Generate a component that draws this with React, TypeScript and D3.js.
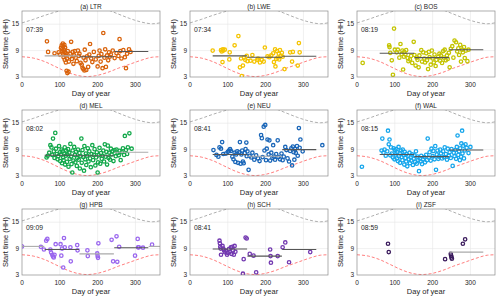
import React, { Component } from "react";
import * as d3 from "d3";

// panel labels and the time annotation in each panel
const panelTitles = ["(a) LTR", "(b) LWE", "(c) BOS", "(d) MEL", "(e) NEU", "(f) WAL", "(g) HPB", "(h) SCH", "(i) ZSF"];
const panelTimes = ["07:39", "07:34", "08:19", "08:02", "08:41", "08:15", "09:09", "08:41", "08:59"];
const xTicks = [0, 100, 200, 300];
const yTicks = [3, 9, 15];

// sunrise / sunset hour by day of year
const sunrise = [[0, 7.6], [30, 7.3], [60, 6.5], [90, 5.3], [120, 4.1], [150, 3.3], [172, 3.1], [195, 3.3], [225, 4.0], [255, 5.0], [285, 5.9], [315, 6.8], [345, 7.5], [365, 7.6]];
const sunset = [[0, 15.3], [30, 16.1], [60, 17.0], [90, 17.8], [120, 18.5], [150, 19.0], [172, 19.1], [195, 19.0], [225, 18.3], [255, 17.3], [285, 16.3], [315, 15.5], [345, 15.1], [365, 15.3]];

// start times [day, hour]
const ltr = [[66,11.1],[69,8.7],[86,8.4],[97,8.6],[100,8.1],[103,9.6],[105,10.2],[106,9.3],[107,8.9],[108,10.6],[109,9.9],[110,8.2],[110,7.5],[111,9.1],[112,10.3],[113,6.9],[113,8.6],[114,9.7],[115,7.9],[116,6.3],[117,8.4],[118,4.4],[119,7.2],[120,3.9],[121,8.9],[123,4.2],[124,6.5],[126,7.6],[128,8.3],[130,11.0],[132,7.1],[134,8.7],[136,6.0],[138,7.9],[140,8.9],[142,7.4],[145,6.6],[148,9.0],[150,7.8],[152,8.3],[155,6.2],[158,5.8],[160,5.1],[162,4.8],[163,7.4],[165,4.5],[166,9.2],[168,6.8],[170,4.6],[172,7.7],[175,5.3],[178,8.1],[180,10.5],[183,7.2],[186,6.4],[190,8.7],[195,7.0],[200,5.4],[203,7.8],[205,9.0],[208,6.5],[210,8.2],[213,5.0],[215,13.0],[218,7.4],[220,9.3],[222,5.3],[225,7.9],[228,6.8],[230,8.6],[232,7.6],[235,8.1],[240,9.0],[245,7.3],[250,8.4],[255,7.8],[258,11.6],[260,8.9],[263,7.2],[268,9.1],[272,7.5],[275,5.0],[278,8.3],[283,9.3],[287,8.7]];
const lwe = [[60,9.0],[82,9.1],[84,8.8],[86,6.4],[87,9.3],[88,9.0],[92,9.2],[104,7.0],[105,8.6],[118,10.2],[128,12.3],[132,5.2],[135,7.2],[137,3.2],[140,5.6],[143,7.4],[146,6.9],[150,7.8],[152,6.6],[160,6.7],[165,8.0],[170,6.5],[178,6.9],[180,7.2],[185,6.3],[190,6.9],[195,6.5],[198,9.7],[205,7.7],[210,7.5],[215,7.9],[220,8.4],[222,6.4],[225,9.3],[226,5.4],[228,7.1],[230,8.9],[232,7.4],[235,8.3],[236,7.0],[238,9.1],[240,7.8],[243,8.5],[245,7.6],[250,4.8],[265,8.6],[270,6.5],[272,8.7],[285,5.6],[288,10.7],[290,8.6]];
const bos = [[15,6.2],[85,10.2],[86,9.8],[88,8.5],[92,6.8],[95,3.5],[98,14.0],[100,9.2],[105,8.6],[108,9.2],[112,7.4],[115,10.5],[118,8.2],[120,9.0],[122,4.7],[124,7.6],[125,8.7],[128,8.1],[130,9.1],[134,7.3],[136,6.6],[140,7.0],[143,7.8],[146,6.2],[150,11.0],[152,8.0],[155,5.6],[158,7.4],[160,6.9],[163,5.2],[165,7.9],[170,9.1],[172,6.5],[175,8.6],[178,7.2],[180,6.3],[183,8.4],[185,6.8],[188,4.8],[190,8.7],[192,7.5],[195,5.8],[198,9.0],[200,7.2],[203,6.3],[205,8.1],[208,5.5],[210,6.9],[215,7.6],[218,8.3],[220,6.7],[222,7.9],[225,6.2],[228,8.9],[230,7.4],[232,9.2],[235,6.8],[238,7.9],[240,7.1],[243,8.5],[245,5.2],[248,9.4],[252,10.0],[255,7.4],[258,11.3],[262,10.9],[265,8.8],[268,9.5],[270,8.0],[273,10.3],[275,6.5],[278,9.2],[280,8.6],[283,9.8],[285,7.3],[288,9.0],[292,6.6],[295,9.2]];
const mel = [[65,7.2],[68,7.6],[72,8.3],[75,10.0],[78,9.5],[80,7.8],[82,11.5],[84,8.6],[86,7.1],[88,12.8],[90,9.2],[92,8.0],[94,6.8],[96,7.5],[98,9.8],[100,8.4],[101,6.4],[103,7.9],[105,9.0],[106,5.9],[108,8.6],[109,7.2],[110,6.6],[112,8.1],[113,9.5],[114,5.6],[116,7.6],[117,8.8],[119,6.2],[120,7.9],[122,9.1],[123,5.1],[125,8.3],[126,6.9],[128,10.3],[130,7.4],[131,5.7],[133,3.8],[134,8.8],[136,6.5],[138,9.6],[140,7.8],[141,6.1],[143,8.5],[145,5.3],[146,7.1],[148,9.0],[150,6.7],[152,8.2],[153,4.7],[155,7.5],[157,11.5],[158,6.0],[160,8.9],[162,7.3],[164,4.2],[165,9.8],[167,6.8],[169,8.1],[170,5.5],[172,7.6],[174,9.3],[176,6.3],[178,8.6],[180,7.0],[182,5.0],[184,8.0],[186,10.0],[188,6.6],[190,7.8],[192,9.1],[194,5.4],[196,7.2],[198,8.4],[200,3.8],[201,6.1],[203,7.7],[205,9.4],[207,5.8],[209,8.2],[211,6.9],[213,7.6],[215,8.8],[217,6.3],[219,10.2],[221,7.4],[223,8.5],[225,5.6],[227,9.9],[229,7.1],[231,8.3],[233,6.7],[235,9.2],[237,7.9],[240,8.6],[242,6.4],[245,8.9],[248,7.5],[250,9.0],[253,8.2],[256,7.7],[258,8.7],[261,6.6],[264,8.4],[267,9.3],[270,7.8],[272,12.1],[275,8.9],[278,8.0],[280,9.5],[284,12.7],[290,9.2]];
const neu = [[62,8.9],[70,7.8],[75,7.4],[78,9.5],[82,9.2],[85,10.7],[88,8.0],[95,8.1],[100,8.5],[103,8.8],[106,9.1],[108,8.7],[112,7.4],[115,6.8],[118,8.3],[120,6.2],[122,7.9],[125,8.6],[127,6.0],[130,8.4],[132,10.7],[134,5.8],[136,7.9],[138,8.8],[140,6.3],[142,5.9],[145,8.2],[147,9.1],[149,10.6],[150,7.5],[152,8.6],[155,4.4],[158,7.6],[162,7.2],[165,8.3],[170,6.7],[175,7.7],[180,7.0],[184,6.4],[188,12.3],[190,11.6],[192,7.3],[195,14.2],[197,8.8],[199,14.6],[201,6.6],[203,9.2],[205,11.3],[208,7.9],[210,11.1],[212,6.5],[215,8.3],[218,7.1],[220,10.0],[222,7.4],[225,6.7],[228,8.0],[232,11.1],[234,7.3],[238,6.8],[242,8.1],[245,6.6],[248,7.4],[252,9.6],[255,8.9],[258,7.0],[262,6.3],[265,8.7],[268,9.3],[270,5.4],[272,9.7],[274,8.4],[276,6.7],[278,9.1],[280,8.2],[283,9.8],[285,7.6],[288,13.9],[290,9.4],[292,11.3],[298,8.6],[350,10.0]];
const wal = [[13,5.1],[65,8.8],[67,11.5],[70,8.3],[73,9.0],[76,7.6],[80,8.6],[82,13.3],[84,10.2],[86,11.3],[88,7.7],[90,9.5],[92,8.1],[95,7.2],[97,9.3],[99,6.8],[100,8.9],[102,7.9],[104,9.1],[106,7.0],[107,8.4],[108,6.4],[110,9.6],[111,7.5],[113,8.2],[114,6.0],[116,8.8],[118,7.3],[120,6.6],[121,9.0],[123,7.8],[125,5.6],[126,8.5],[128,7.1],[130,6.3],[131,8.0],[133,5.2],[135,7.6],[137,6.8],[139,8.3],[140,5.9],[142,7.2],[144,6.5],[146,7.9],[148,5.5],[150,6.9],[152,7.7],[154,6.2],[156,8.6],[158,5.8],[160,7.4],[162,6.6],[164,4.1],[166,7.0],[168,6.3],[170,7.6],[172,5.7],[175,6.8],[178,7.3],[180,6.1],[183,7.8],[185,6.6],[187,11.5],[190,7.2],[192,8.4],[195,6.5],[197,9.2],[200,7.5],[202,8.7],[205,6.8],[207,9.8],[209,4.4],[211,7.9],[213,8.8],[215,6.9],[217,7.4],[220,9.0],[222,8.1],[225,7.0],[228,8.6],[230,7.3],[232,9.5],[235,8.0],[238,6.7],[240,9.2],[243,7.6],[245,8.4],[248,7.1],[250,9.1],[253,5.3],[256,8.3],[258,7.5],[260,8.9],[262,6.9],[264,9.6],[266,12.2],[268,7.8],[270,8.6],[272,6.6],[273,9.3],[275,7.4],[276,10.4],[278,13.3],[279,8.1],[281,9.9],[283,7.0],[285,8.8],[287,10.2],[290,9.4],[295,8.2],[300,9.6]];
const hpb = [[0,9.5],[50,9.4],[58,8.8],[64,10.8],[67,11.2],[75,8.8],[77,8.1],[80,7.6],[82,7.2],[84,7.0],[86,7.6],[89,10.0],[102,10.0],[104,7.4],[106,9.0],[109,4.7],[111,11.4],[113,9.3],[128,9.3],[129,6.1],[146,9.8],[147,8.6],[173,8.6],[174,7.3],[199,7.9],[200,7.3],[201,6.9],[202,10.2],[237,11.0],[241,6.1],[250,11.8],[252,6.0],[257,9.4],[299,7.4],[306,11.2],[307,9.3],[309,9.3],[320,9.2],[344,9.9]];
const sch = [[78,10.8],[79,10.2],[80,9.4],[81,9.0],[82,7.6],[86,9.6],[88,9.0],[90,8.6],[92,8.2],[95,8.5],[98,7.6],[100,8.0],[103,8.9],[105,8.2],[108,9.3],[110,7.8],[112,9.4],[114,8.6],[116,7.6],[118,9.6],[120,8.3],[140,3.3],[142,6.6],[147,11.5],[150,11.3],[158,7.8],[168,7.4],[175,3.6],[212,8.8],[213,7.3],[214,5.8],[232,7.3],[245,9.3],[252,10.4],[262,5.9],[318,8.2]];
const zsf = [[82,10.1],[84,8.2],[233,6.6],[248,7.8],[249,7.4],[250,7.0],[251,6.7],[280,10.1],[286,11.1]];
const panelPoints = [ltr, lwe, bos, mel, neu, wal, hpb, sch, zsf];

// seasonal mean start time [from day, to day, hour, significant]
const ltrMeans = [[60, 151, 7.8, 0], [152, 243, 7.6, 1], [244, 334, 8.8, 1]];
const lweMeans = [[60, 151, 7.8, 1], [152, 243, 7.5, 1], [244, 334, 7.7, 1]];
const bosMeans = [[60, 151, 8.4, 1], [152, 243, 7.4, 1], [244, 334, 9.2, 1]];
const melMeans = [[60, 151, 7.7, 1], [152, 243, 7.6, 1], [244, 334, 8.4, 0]];
const neuMeans = [[60, 151, 7.9, 1], [152, 243, 7.5, 0], [244, 334, 9.0, 1]];
const walMeans = [[60, 151, 7.9, 1], [152, 243, 7.4, 1], [244, 334, 8.9, 1]];
const hpbMeans = [[0, 59, 9.5, 0], [60, 151, 8.8, 1], [152, 243, 7.8, 0], [244, 334, 9.2, 1], [335, 365, 9.5, 0]];
const schMeans = [[60, 151, 8.9, 1], [152, 243, 7.3, 1], [244, 334, 8.8, 1]];
const zsfMeans = [[244, 334, 8.2, 0]];
const panelMeans = [ltrMeans, lweMeans, bosMeans, melMeans, neuMeans, walMeans, hpbMeans, schMeans, zsfMeans];

const colors = ["#d9620b", "#f5c400", "#c4c400", "#12a84a", "#1a66b8", "#16a6ec", "#9a66ee", "#7238b0", "#3a1a5c"];

class App extends Component {
  svgRef: any;
  constructor(props) {
    super(props);
    this.svgRef = React.createRef();
  }

  componentDidMount() {
    this.renderChart();
  }

  renderChart() {
    const svg = d3.select(this.svgRef.current);
    svg.html("");
    const font = "Liberation Sans, Arial, sans-serif";
    const colX = [22, 190, 357];
    const rowY = [11, 110, 209];
    const w = 138;
    const h = 66;

    const x = d3.scaleLinear().domain([0, 365]).range([0, w]);
    const y = d3.scaleLinear().domain([3, 18]).range([h, 0]);
    const curve = d3
      .line()
      .x(d => x(d[0]))
      .y(d => y(d[1]))
      .curve(d3.curveMonotoneX);

    svg
      .append("defs")
      .append("clipPath")
      .attr("id", "plot-clip")
      .append("rect")
      .attr("width", w)
      .attr("height", h);

    panelTitles.forEach((title, i) => {
      const g = svg
        .append("g")
        .attr("transform", `translate(${colX[i % 3]},${rowY[Math.floor(i / 3)]})`);

      g.append("rect").attr("width", w).attr("height", h).attr("fill", "#fff");

      // grid
      g.selectAll(".vgrid")
        .data(xTicks.slice(1))
        .enter()
        .append("line")
        .attr("x1", d => x(d))
        .attr("x2", d => x(d))
        .attr("y1", 0)
        .attr("y2", h)
        .attr("stroke", "#e6e6e6")
        .attr("stroke-width", 0.6);
      g.selectAll(".hgrid")
        .data(yTicks.slice(1))
        .enter()
        .append("line")
        .attr("x1", 0)
        .attr("x2", w)
        .attr("y1", d => y(d))
        .attr("y2", d => y(d))
        .attr("stroke", "#e6e6e6")
        .attr("stroke-width", 0.6);

      const inner = g.append("g").attr("clip-path", "url(#plot-clip)");
      inner
        .append("path")
        .datum(sunset)
        .attr("d", curve)
        .attr("fill", "none")
        .attr("stroke", "#a6a6a6")
        .attr("stroke-width", 0.9)
        .attr("stroke-dasharray", "3,2");
      inner
        .append("path")
        .datum(sunrise)
        .attr("d", curve)
        .attr("fill", "none")
        .attr("stroke", "#ff6f6f")
        .attr("stroke-width", 0.9)
        .attr("stroke-dasharray", "3,2");

      inner
        .selectAll("circle")
        .data(panelPoints[i])
        .enter()
        .append("circle")
        .attr("cx", d => x(d[0]))
        .attr("cy", d => y(d[1]))
        .attr("r", 1.7)
        .attr("fill", "none")
        .attr("stroke", colors[i])
        .attr("stroke-width", 1.3);

      inner
        .selectAll(".mean")
        .data(panelMeans[i])
        .enter()
        .append("line")
        .attr("x1", d => x(d[0]))
        .attr("x2", d => x(d[1]))
        .attr("y1", d => y(d[2]))
        .attr("y2", d => y(d[2]))
        .attr("stroke", d => (d[3] ? "#555" : "#aaa"))
        .attr("stroke-width", 1.1);

      // box
      g.append("rect")
        .attr("width", w)
        .attr("height", h)
        .attr("fill", "none")
        .attr("stroke", "#8c8c8c")
        .attr("stroke-width", 0.7);

      g.selectAll(".xt")
        .data(xTicks)
        .enter()
        .append("text")
        .attr("x", d => x(d))
        .attr("y", h + 9.5)
        .attr("text-anchor", "middle")
        .attr("font-size", 6.5)
        .attr("font-family", font)
        .attr("fill", "#262626")
        .text(d => d);
      g.selectAll(".yt")
        .data(yTicks)
        .enter()
        .append("text")
        .attr("x", -3)
        .attr("y", d => y(d))
        .attr("dy", "0.35em")
        .attr("text-anchor", "end")
        .attr("font-size", 6.5)
        .attr("font-family", font)
        .attr("fill", "#262626")
        .text(d => d);

      g.append("text")
        .attr("x", w / 2)
        .attr("y", h + 18.5)
        .attr("text-anchor", "middle")
        .attr("font-size", 7.5)
        .attr("font-family", font)
        .attr("fill", "#262626")
        .text("Day of year");
      g.append("text")
        .attr("transform", `translate(-14,${h / 2}) rotate(-90)`)
        .attr("text-anchor", "middle")
        .attr("font-size", 7.5)
        .attr("font-family", font)
        .attr("fill", "#262626")
        .text("Start time (HH)");
      g.append("text")
        .attr("x", w / 2)
        .attr("y", -2.5)
        .attr("text-anchor", "middle")
        .attr("font-size", 6.5)
        .attr("font-family", font)
        .attr("fill", "#262626")
        .text(title);
      g.append("text")
        .attr("x", 4)
        .attr("y", 20.5)
        .attr("font-size", 6.8)
        .attr("font-family", font)
        .attr("fill", "#262626")
        .text(panelTimes[i]);
    });
  }

  render() {
    return (
      <svg
        ref={this.svgRef}
        width={500}
        height={299}
        style={{ position: "absolute", left: 0, top: 0, background: "#fff" }}
      />
    );
  }
}

export default App;
